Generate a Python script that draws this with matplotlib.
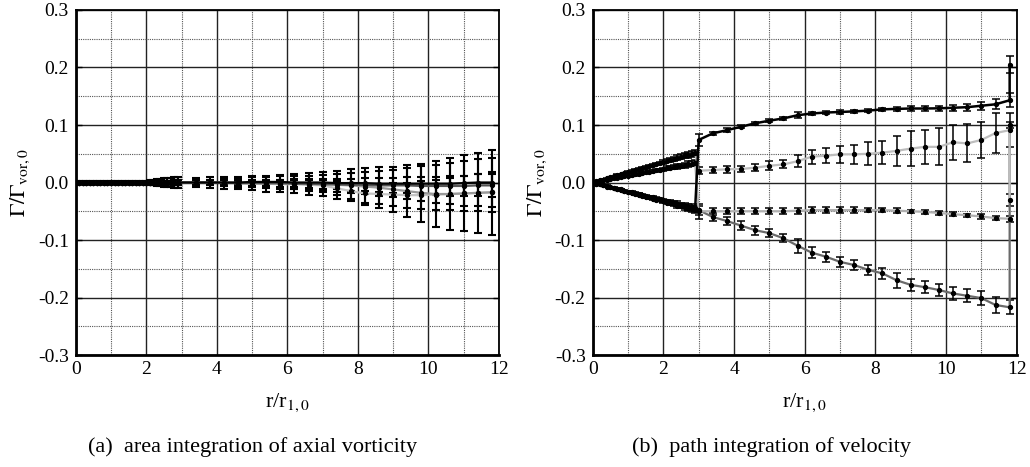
import matplotlib.pyplot as plt
import numpy as np
from matplotlib.ticker import MultipleLocator, FormatStrFormatter

plt.rcParams['font.family'] = 'Liberation Serif'
plt.rcParams['mathtext.fontset'] = 'stix'
plt.rcParams['axes.unicode_minus'] = False

# radial positions r/r_1,0
r_dense = [0.0, 0.1, 0.2, 0.3, 0.4, 0.5, 0.6, 0.7, 0.8, 0.9, 1.0, 1.1, 1.2, 1.3, 1.4,
           1.5, 1.6, 1.7, 1.8, 1.9, 2.0, 2.1, 2.2, 2.3, 2.4, 2.5, 2.6, 2.7, 2.8, 2.9]
r_a = [3.4, 3.8, 4.2, 4.6, 5.0, 5.4, 5.8, 6.2, 6.6, 7.0, 7.4, 7.8, 8.2, 8.6, 9.0,
       9.4, 9.8, 10.2, 10.6, 11.0, 11.4, 11.8]
r_b = [3.0, 3.4, 3.8, 4.2, 4.6, 5.0, 5.4, 5.8, 6.2, 6.6, 7.0, 7.4, 7.8, 8.2, 8.6,
       9.0, 9.4, 9.8, 10.2, 10.6, 11.0, 11.4, 11.8]
r_end = [11.8]

# ---- (a) area integration of axial vorticity ----
a_dense = [0.0] * 30
a_dense_err_small = [0.001, 0.001, 0.001, 0.001, 0.001, 0.001, 0.001, 0.001, 0.001, 0.001,
                     0.001, 0.001, 0.001, 0.001, 0.001, 0.001, 0.001, 0.001, 0.001, 0.001,
                     0.001, 0.002, 0.002, 0.002, 0.002, 0.003, 0.003, 0.003, 0.004, 0.004]
a_dense_err_big = [0.002, 0.002, 0.002, 0.002, 0.002, 0.002, 0.002, 0.002, 0.002, 0.002,
                   0.002, 0.002, 0.002, 0.002, 0.002, 0.002, 0.002, 0.002, 0.002, 0.002,
                   0.003, 0.004, 0.005, 0.006, 0.006, 0.007, 0.008, 0.008, 0.009, 0.009]

a1 = [0.0, 0.0, 0.0, 0.0, 0.001, 0.001, 0.001, 0.0, 0.0, 0.0, -0.001, -0.001, -0.001,
      -0.002, -0.002, -0.002, -0.002, -0.002, -0.002, -0.001, 0.0, 0.0]
a1_err = [0.005, 0.005, 0.006, 0.007, 0.008, 0.009, 0.010, 0.011, 0.012, 0.013, 0.015,
          0.017, 0.019, 0.022, 0.024, 0.027, 0.030, 0.033, 0.036, 0.039, 0.041, 0.043]
a2 = [0.0, 0.0, 0.0, -0.001, -0.001, -0.001, -0.001, -0.002, -0.002, -0.003, -0.003,
      -0.004, -0.004, -0.005, -0.005, -0.005, -0.006, -0.006, -0.006, -0.006, -0.005, -0.005]
a2_err = [0.003, 0.003, 0.004, 0.004, 0.005, 0.005, 0.006, 0.006, 0.007, 0.008, 0.009,
          0.010, 0.011, 0.012, 0.013, 0.014, 0.015, 0.016, 0.017, 0.018, 0.019, 0.020]
a3 = [0.0, 0.0, -0.001, -0.001, -0.001, -0.002, -0.002, -0.002, -0.003, -0.003, -0.004,
      -0.005, -0.007, -0.009, -0.012, -0.015, -0.018, -0.020, -0.020, -0.019, -0.018, -0.017]
a3_err = [0.008, 0.009, 0.010, 0.011, 0.0125, 0.014, 0.015, 0.017, 0.019, 0.021, 0.024,
          0.028, 0.032, 0.036, 0.039, 0.045, 0.050, 0.058, 0.062, 0.066, 0.070, 0.074]
a4 = [0.0, 0.0, 0.0, -0.001, -0.002, -0.002, -0.003, -0.003, -0.004, -0.005, -0.010,
      -0.015, -0.019, -0.020, -0.021, -0.022, -0.022, -0.021, -0.020, -0.019, -0.018, -0.017]
a4_err = [0.004, 0.004, 0.005, 0.005, 0.006, 0.007, 0.008, 0.009, 0.010, 0.011, 0.012,
          0.014, 0.016, 0.018, 0.020, 0.022, 0.024, 0.026, 0.028, 0.030, 0.032, 0.035]

# ---- (b) path integration of velocity ----
fan_up1 = [0.0, 0.002, 0.004, 0.005, 0.007, 0.009, 0.011, 0.013, 0.014, 0.016,
           0.018, 0.020, 0.021, 0.023, 0.025, 0.027, 0.029, 0.030, 0.032, 0.034,
           0.036, 0.038, 0.039, 0.041, 0.043, 0.045, 0.047, 0.048, 0.050, 0.052]
fan_up2 = [0.0, 0.001, 0.002, 0.004, 0.005, 0.006, 0.007, 0.008, 0.009, 0.011,
           0.012, 0.013, 0.014, 0.015, 0.016, 0.018, 0.019, 0.020, 0.021, 0.022,
           0.023, 0.025, 0.026, 0.027, 0.028, 0.029, 0.030, 0.032, 0.033, 0.034]
fan_lo1 = [0.0, -0.002, -0.003, -0.005, -0.006, -0.008, -0.009, -0.011, -0.012, -0.014,
           -0.016, -0.017, -0.019, -0.020, -0.022, -0.023, -0.025, -0.026, -0.028, -0.029,
           -0.031, -0.033, -0.034, -0.036, -0.037, -0.039, -0.040, -0.042, -0.043, -0.045]
fan_lo2 = [0.0, -0.002, -0.003, -0.005, -0.007, -0.008, -0.010, -0.011, -0.013, -0.015,
           -0.016, -0.018, -0.020, -0.021, -0.023, -0.025, -0.026, -0.028, -0.030, -0.031,
           -0.033, -0.035, -0.036, -0.038, -0.040, -0.041, -0.043, -0.045, -0.046, -0.048]
fan_err = [0.001, 0.001, 0.001, 0.001, 0.001, 0.001, 0.001, 0.001, 0.001, 0.001,
           0.002, 0.002, 0.002, 0.002, 0.002, 0.002, 0.002, 0.002, 0.002, 0.002,
           0.003, 0.003, 0.003, 0.003, 0.004, 0.004, 0.004, 0.005, 0.005, 0.005]

b_black = [0.074, 0.0855, 0.091, 0.097, 0.103, 0.1075, 0.1115, 0.117, 0.120, 0.1217,
           0.1226, 0.1237, 0.125, 0.1272, 0.128, 0.1287, 0.1287, 0.129, 0.130, 0.131,
           0.1335, 0.136, 0.143]
b_black_err = [0.010, 0.003, 0.003, 0.003, 0.003, 0.003, 0.003, 0.005, 0.003, 0.003,
               0.003, 0.003, 0.003, 0.003, 0.004, 0.004, 0.004, 0.004, 0.005, 0.006,
               0.007, 0.009, 0.012]
b_black_end = [0.205]
b_black_end_err = [0.015]

b_light = [0.0205, 0.0217, 0.023, 0.0235, 0.0258, 0.029, 0.0315, 0.037, 0.045, 0.0466,
           0.049, 0.049, 0.050, 0.052, 0.055, 0.059, 0.062, 0.062, 0.070, 0.068,
           0.074, 0.086, 0.091]
b_light_err = [0.006, 0.005, 0.006, 0.006, 0.006, 0.008, 0.007, 0.010, 0.012, 0.013,
               0.015, 0.016, 0.020, 0.020, 0.026, 0.030, 0.030, 0.032, 0.030, 0.033,
               0.032, 0.035, 0.030]
b_light_end = [-0.03]
b_light_end_err = [0.01]

b_flat = [-0.050, -0.050, -0.050, -0.050, -0.050, -0.050, -0.050, -0.049, -0.048, -0.048,
          -0.048, -0.048, -0.048, -0.048, -0.049, -0.050, -0.051, -0.053, -0.055, -0.057,
          -0.059, -0.062, -0.063]
b_flat_err = [0.013, 0.006, 0.005, 0.005, 0.005, 0.005, 0.005, 0.005, 0.005, 0.005,
              0.005, 0.005, 0.004, 0.004, 0.004, 0.003, 0.003, 0.003, 0.003, 0.003,
              0.004, 0.004, 0.005]

b_fall = [-0.048, -0.060, -0.067, -0.075, -0.083, -0.088, -0.097, -0.110, -0.122, -0.129,
          -0.138, -0.1435, -0.152, -0.158, -0.170, -0.178, -0.182, -0.187, -0.193, -0.197,
          -0.201, -0.213, -0.217]
b_fall_err = [0.008, 0.007, 0.007, 0.008, 0.008, 0.007, 0.007, 0.012, 0.010, 0.009,
              0.009, 0.008, 0.009, 0.010, 0.013, 0.0105, 0.010, 0.010, 0.011, 0.011,
              0.012, 0.0145, 0.012]
b_fall_end = [0.10]
b_fall_end_err = [0.006]

fig = plt.figure(figsize=(10.3, 4.67), dpi=100)
ax_a = fig.add_axes([0.0735, 0.2398, 0.4110, 0.7388])
ax_b = fig.add_axes([0.5754, 0.2398, 0.4117, 0.7388])


def series(ax, x, y, err, color, lw=1.6, elw=1.1):
    ax.errorbar(x, y, yerr=err, fmt='none', ecolor='black', elinewidth=elw,
                capsize=2.8, capthick=elw, zorder=3)
    ax.plot(x, y, '-', color=color, lw=lw, zorder=4)
    ax.plot(x, y, 'o', ms=2.8, color='black', zorder=5)


# panel (a)
series(ax_a, r_dense + r_a, a_dense + a4, a_dense_err_small + a4_err, '#c4c4c4', elw=1.5)
series(ax_a, r_dense + r_a, a_dense + a3, a_dense_err_big + a3_err, '#999999', elw=1.5)
series(ax_a, r_dense + r_a, a_dense + a2, a_dense_err_small + a2_err, '#555555', elw=1.5)
series(ax_a, r_dense + r_a, a_dense + a1, a_dense_err_small + a1_err, 'black', elw=1.5)

# panel (b)
series(ax_b, r_dense + r_b + r_end, fan_lo2 + b_fall + b_fall_end,
       fan_err + b_fall_err + b_fall_end_err, '#6a6a6a')
series(ax_b, r_dense + r_b, fan_up2 + b_flat, fan_err + b_flat_err, '#b0b0b0')
series(ax_b, r_dense + r_b + r_end, fan_up1 + b_light + b_light_end,
       fan_err + b_light_err + b_light_end_err, '#bdbdbd')
series(ax_b, r_dense + r_b + r_end, fan_lo1 + b_black + b_black_end,
       fan_err + b_black_err + b_black_end_err, 'black', lw=1.8)

for ax in (ax_a, ax_b):
    ax.set_xlim(0, 12)
    ax.set_ylim(-0.3, 0.3)
    ax.xaxis.set_major_locator(MultipleLocator(2))
    ax.xaxis.set_minor_locator(MultipleLocator(1))
    ax.yaxis.set_major_locator(MultipleLocator(0.1))
    ax.yaxis.set_minor_locator(MultipleLocator(0.05))
    ax.yaxis.set_major_formatter(FormatStrFormatter('%.1f'))
    ax.grid(which='major', color='#222222', lw=1.0, ls='-', zorder=0)
    ax.grid(which='minor', color='#555555', lw=0.8, ls=(0, (1, 1)), zorder=0)
    ax.set_axisbelow(True)
    ax.tick_params(which='major', direction='in', length=4, width=1.0,
                   left=True, right=True, bottom=False, top=False,
                   labelsize=14, pad=5)
    ax.tick_params(which='minor', direction='in', length=0)
    ax.tick_params(axis='x', pad=4)
    for side in ('left', 'bottom'):
        ax.spines[side].set_linewidth(2.0)
    for side in ('top', 'right'):
        ax.spines[side].set_linewidth(1.3)
    ax.set_xlabel(r'r/r$_{1,0}$', fontsize=16, labelpad=10)
    ax.set_ylabel(r'$\Gamma/\Gamma_{\mathrm{vor,0}}$', fontsize=16, labelpad=4)

fig.text(0.2456, 0.043, '(a)  area integration of axial vorticity', ha='center',
         va='center', fontsize=16)
fig.text(0.749, 0.043, '(b)  path integration of velocity', ha='center',
         va='center', fontsize=16)

fig.savefig('out.png', dpi=100)
